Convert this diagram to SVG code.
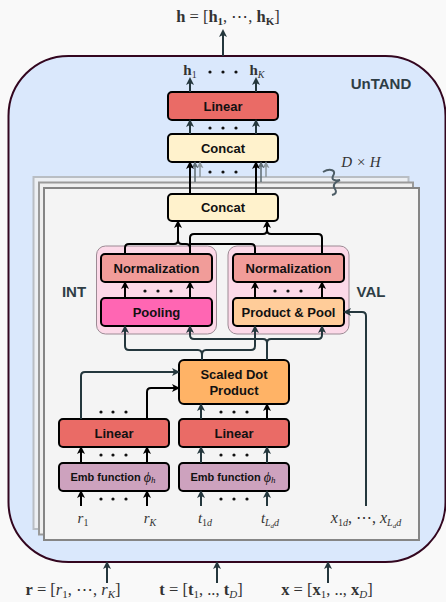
<svg xmlns="http://www.w3.org/2000/svg" width="446" height="602" viewBox="0 0 446 602">
<defs>
<style>
.box{stroke:#000;stroke-width:2}
.lbl{font-family:"Liberation Sans",Arial,sans-serif;font-weight:bold;font-size:13px;fill:#111;text-anchor:middle;dominant-baseline:central}
.emb{font-family:"Liberation Sans",Arial,sans-serif;font-weight:bold;font-size:11px;fill:#111;text-anchor:middle;dominant-baseline:central}
.phi{font-family:"Liberation Serif","DejaVu Serif",serif;font-style:italic;font-weight:normal}
.side{font-family:"Liberation Sans",Arial,sans-serif;font-weight:bold;font-size:15px;fill:#2e3d45;text-anchor:middle;dominant-baseline:central}
.math{font-family:"Liberation Serif","DejaVu Serif",serif;font-size:15px;fill:#333;text-anchor:middle}
.big{font-size:16.5px}
.mi{font-style:italic}
.mb{font-weight:bold}
.ck{fill:none;stroke:#000;stroke-width:2}
.cs{fill:none;stroke:#24373d;stroke-width:2}
.dot{fill:#111}
</style>
<marker id="ak" viewBox="0 0 8 8" refX="6" refY="4" markerWidth="8" markerHeight="8" markerUnits="userSpaceOnUse" orient="auto"><path d="M0,0 L8,4 L0,8 L2,4 z" fill="#000"/></marker>
<marker id="as" viewBox="0 0 8 8" refX="6" refY="4" markerWidth="8" markerHeight="8" markerUnits="userSpaceOnUse" orient="auto"><path d="M0,0 L8,4 L0,8 L2,4 z" fill="#24373d"/></marker>
<marker id="ag1" viewBox="0 0 8 8" refX="6" refY="4" markerWidth="7" markerHeight="7" markerUnits="userSpaceOnUse" orient="auto"><path d="M0,0 L8,4 L0,8 L2,4 z" fill="#5d6b72"/></marker>
<marker id="ag2" viewBox="0 0 8 8" refX="6" refY="4" markerWidth="7" markerHeight="7" markerUnits="userSpaceOnUse" orient="auto"><path d="M0,0 L8,4 L0,8 L2,4 z" fill="#8c979d"/></marker>
</defs>
<rect width="446" height="602" fill="#f9f9f9"/>

<g id="untand">
<rect x="8.5" y="56" width="437" height="506" rx="60" fill="#dae8fc" stroke="#33061f" stroke-width="2"/>
<text class="side" x="381" y="83">UnTAND</text>
</g>

<g id="stack">
<rect x="33.5" y="177" width="375" height="352" fill="#eceff3" stroke="#b9bec4" stroke-width="2"/>
<rect x="39" y="182.5" width="374" height="352" fill="#efefef" stroke="#9a9a9a" stroke-width="2"/>
<rect x="44" y="188" width="375" height="352" fill="#f4f4f4" stroke="#858585" stroke-width="2"/>
<path d="M323,172 C330,168 337,170 333,176 C331,180 335,181 340,180 C335,182 332,185 335,189 C337,192 336,194 332,195" fill="none" stroke="#4d5d66" stroke-width="2"/>
<text class="math mi" x="361" y="167" fill="#444">D × H</text>
</g>

<g id="int-group">
<rect x="96.5" y="246" width="120" height="88" rx="9" fill="#fcd9e8" stroke="#9c8a94" stroke-width="1"/>
<text class="side" x="74" y="291">INT</text>
</g>
<g id="val-group">
<rect x="228" y="246" width="121" height="88" rx="9" fill="#fcd9e8" stroke="#9c8a94" stroke-width="1"/>
<text class="side" x="371" y="291">VAL</text>
</g>

<g id="linear-top"><rect class="box" x="168" y="92" width="110" height="28" rx="4" fill="#ea6b66"/><text class="lbl" x="223" y="106">Linear</text></g>
<g id="concat-top"><rect class="box" x="168" y="134" width="110" height="28" rx="4" fill="#fff2cc"/><text class="lbl" x="223" y="148">Concat</text></g>
<g id="concat-bottom"><rect class="box" x="168" y="194" width="110" height="27" rx="4" fill="#fff2cc"/><text class="lbl" x="223" y="207.5">Concat</text></g>
<g id="norm-int"><rect class="box" x="101" y="254" width="111" height="28" rx="4" fill="#f19c99"/><text class="lbl" x="156.5" y="268">Normalization</text></g>
<g id="pooling"><rect class="box" x="101" y="298" width="111" height="28" rx="4" fill="#ff66b3"/><text class="lbl" x="156.5" y="312">Pooling</text></g>
<g id="norm-val"><rect class="box" x="233" y="254" width="111" height="28" rx="4" fill="#f19c99"/><text class="lbl" x="288.5" y="268">Normalization</text></g>
<g id="prodpool"><rect class="box" x="233" y="298" width="111" height="28" rx="4" fill="#ffcc99"/><text class="lbl" x="288.5" y="312">Product &amp; Pool</text></g>
<g id="sdp"><rect class="box" x="179" y="360" width="110" height="44" rx="5" fill="#ffb366"/><text class="lbl" x="234" y="374">Scaled Dot</text><text class="lbl" x="234" y="390">Product</text></g>
<g id="linear-left"><rect class="box" x="59" y="419" width="110" height="28" rx="4" fill="#ea6b66"/><text class="lbl" x="114" y="433">Linear</text></g>
<g id="linear-right"><rect class="box" x="179" y="419" width="110" height="28" rx="4" fill="#ea6b66"/><text class="lbl" x="234" y="433">Linear</text></g>
<g id="emb-left"><rect class="box" x="59" y="463" width="110" height="28" rx="4" fill="#cda2be"/><text class="emb" x="113" y="477">Emb function <tspan class="phi" style="font-size:14px">ϕ</tspan><tspan class="phi" style="font-size:9px" dy="3">h</tspan></text></g>
<g id="emb-right"><rect class="box" x="179" y="463" width="110" height="28" rx="4" fill="#cda2be"/><text class="emb" x="233" y="477">Emb function <tspan class="phi" style="font-size:14px">ϕ</tspan><tspan class="phi" style="font-size:9px" dy="3">h</tspan></text></g>

<g id="connectors">
<path class="cs" d="M223,56 V31" marker-end="url(#as)"/>
<path class="cs" d="M190,92 V79" marker-end="url(#as)"/>
<path class="cs" d="M256,92 V79" marker-end="url(#as)"/>
<path class="cs" d="M190,134 V121" marker-end="url(#as)"/>
<path class="cs" d="M256,134 V121" marker-end="url(#as)"/>
<path fill="none" stroke="#8c979d" stroke-width="1.5" d="M200,177 V163" marker-end="url(#ag2)"/>
<path fill="none" stroke="#8c979d" stroke-width="1.5" d="M266,177 V163" marker-end="url(#ag2)"/>
<path fill="none" stroke="#5d6b72" stroke-width="1.5" d="M195,182 V163" marker-end="url(#ag1)"/>
<path fill="none" stroke="#5d6b72" stroke-width="1.5" d="M261,182 V163" marker-end="url(#ag1)"/>
<path class="ck" d="M190,194 V163" marker-end="url(#ak)"/>
<path class="ck" d="M256,194 V163" marker-end="url(#ak)"/>

<path class="ck" d="M125,254 V248 Q125,244 129,244 H174 Q178,244 178,240 V222" marker-end="url(#ak)"/>
<path class="ck" d="M190,254 V248 Q190,244 186,244 H182 Q178,244 178,240"/>
<path class="ck" d="M190,248 V238 Q190,234 194,234 H263 Q267,234 267,230 V222" marker-end="url(#ak)"/>
<path class="ck" d="M322,254 V238 Q322,234 318,234 H271 Q267,234 267,230"/>
<path class="ck" d="M255,254 V248 Q255,244 251,244 H190"/>

<path class="ck" d="M125,298 V283" marker-end="url(#ak)"/>
<path class="ck" d="M190,298 V283" marker-end="url(#ak)"/>
<path class="ck" d="M255,298 V283" marker-end="url(#ak)"/>
<path class="ck" d="M322,298 V283" marker-end="url(#ak)"/>

<path class="cs" d="M202,360 V355 Q202,350 198,350 H129 Q125,350 125,346 V327" marker-end="url(#as)"/>
<path class="cs" d="M202,355 Q202,350 206,350 H251 Q255,350 255,346 V327" marker-end="url(#as)"/>
<path class="cs" d="M267,360 V343 Q267,339 263,339 H194 Q190,339 190,335 V327" marker-end="url(#as)"/>
<path class="cs" d="M267,343 Q267,339 271,339 H318 Q322,339 322,335 V327" marker-end="url(#as)"/>

<path class="cs" d="M366,506 V316 Q366,312 362,312 H345" marker-end="url(#as)"/>

<path class="cs" d="M81,419 V376 Q81,372 85,372 H178" marker-end="url(#as)"/>
<path class="ck" d="M147,419 V392 Q147,388 151,388 H178" marker-end="url(#ak)"/>
<path class="cs" d="M201,419 V405" marker-end="url(#as)"/>
<path class="ck" d="M267,419 V405" marker-end="url(#ak)"/>

<path class="ck" d="M81,463 V448" marker-end="url(#ak)"/>
<path class="ck" d="M147,463 V448" marker-end="url(#ak)"/>
<path class="cs" d="M201,463 V448" marker-end="url(#as)"/>
<path class="cs" d="M267,463 V448" marker-end="url(#as)"/>

<path class="ck" d="M81,506 V492" marker-end="url(#ak)"/>
<path class="ck" d="M147,506 V492" marker-end="url(#ak)"/>
<path class="cs" d="M201,506 V492" marker-end="url(#as)"/>
<path class="cs" d="M267,506 V492" marker-end="url(#as)"/>

<path class="cs" d="M107,583 V563" marker-end="url(#as)"/>
<path class="cs" d="M217,583 V563" marker-end="url(#as)"/>
<path class="cs" d="M328,583 V563" marker-end="url(#as)"/>
</g>

<g id="dots">
<circle class="dot" cx="210" cy="72" r="1.6"/><circle class="dot" cx="223" cy="72" r="1.6"/><circle class="dot" cx="236" cy="72" r="1.6"/>
<circle class="dot" cx="210" cy="128" r="1.6"/><circle class="dot" cx="223" cy="128" r="1.6"/><circle class="dot" cx="236" cy="128" r="1.6"/>
<circle class="dot" cx="210" cy="172" r="1.6"/><circle class="dot" cx="223" cy="172" r="1.6"/><circle class="dot" cx="236" cy="172" r="1.6"/>
<circle class="dot" cx="145" cy="291" r="1.6"/><circle class="dot" cx="158" cy="291" r="1.6"/><circle class="dot" cx="171" cy="291" r="1.6"/>
<circle class="dot" cx="275" cy="291" r="1.6"/><circle class="dot" cx="288" cy="291" r="1.6"/><circle class="dot" cx="301" cy="291" r="1.6"/>
<circle class="dot" cx="101" cy="412" r="1.6"/><circle class="dot" cx="113" cy="412" r="1.6"/><circle class="dot" cx="126" cy="412" r="1.6"/>
<circle class="dot" cx="221" cy="412" r="1.6"/><circle class="dot" cx="234" cy="412" r="1.6"/><circle class="dot" cx="247" cy="412" r="1.6"/>
<circle class="dot" cx="101" cy="455" r="1.6"/><circle class="dot" cx="113" cy="455" r="1.6"/><circle class="dot" cx="126" cy="455" r="1.6"/>
<circle class="dot" cx="221" cy="455" r="1.6"/><circle class="dot" cx="234" cy="455" r="1.6"/><circle class="dot" cx="247" cy="455" r="1.6"/>
<circle class="dot" cx="101" cy="499" r="1.6"/><circle class="dot" cx="113" cy="499" r="1.6"/><circle class="dot" cx="126" cy="499" r="1.6"/>
<circle class="dot" cx="221" cy="499" r="1.6"/><circle class="dot" cx="234" cy="499" r="1.6"/><circle class="dot" cx="247" cy="499" r="1.6"/>
</g>

<g id="labels">
<text class="math big" x="228" y="22"><tspan class="mb">h</tspan> = [<tspan class="mb">h</tspan><tspan class="mb" font-size="11px" dy="3">1</tspan><tspan dy="-3">, ⋯, </tspan><tspan class="mb">h</tspan><tspan class="mb" font-size="11px" dy="3">K</tspan><tspan dy="-3">]</tspan></text>
<text class="math" x="190" y="75"><tspan class="mb">h</tspan><tspan font-size="10px" dy="3">1</tspan></text>
<text class="math" x="257" y="75"><tspan class="mb">h</tspan><tspan class="mi" font-size="10px" dy="3">K</tspan></text>
<text class="math" x="83" y="523"><tspan class="mi">r</tspan><tspan font-size="10px" dy="3">1</tspan></text>
<text class="math" x="150" y="523"><tspan class="mi">r</tspan><tspan class="mi" font-size="10px" dy="3">K</tspan></text>
<text class="math" x="205" y="523"><tspan class="mi">t</tspan><tspan font-size="10px" dy="3">1<tspan class="mi">d</tspan></tspan></text>
<text class="math" x="270" y="523"><tspan class="mi">t</tspan><tspan class="mi" font-size="10px" dy="3">L</tspan><tspan class="mi" font-size="7px" dy="2">d</tspan><tspan class="mi" font-size="10px" dy="-2">d</tspan></text>
<text class="math" x="366" y="523" style="font-size:16px"><tspan class="mi">x</tspan><tspan font-size="10px" dy="3">1<tspan class="mi">d</tspan></tspan><tspan dy="-3">, ⋯, </tspan><tspan class="mi">x</tspan><tspan class="mi" font-size="10px" dy="3">L</tspan><tspan class="mi" font-size="7px" dy="2">d</tspan><tspan class="mi" font-size="10px" dy="-2">d</tspan></text>
<text class="math big" x="73" y="595"><tspan class="mb">r</tspan> = [<tspan class="mi">r</tspan><tspan font-size="11px" dy="2.5">1</tspan><tspan dy="-2.5">, ⋯, </tspan><tspan class="mi">r</tspan><tspan class="mi" font-size="11px" dy="2.5">K</tspan><tspan dy="-2.5">]</tspan></text>
<text class="math big" x="201" y="595"><tspan class="mb">t</tspan> = [<tspan class="mb">t</tspan><tspan font-size="11px" dy="2.5">1</tspan><tspan dy="-2.5">, .., </tspan><tspan class="mb">t</tspan><tspan class="mi" font-size="11px" dy="2.5">D</tspan><tspan dy="-2.5">]</tspan></text>
<text class="math big" x="327" y="595"><tspan class="mb">x</tspan> = [<tspan class="mb">x</tspan><tspan font-size="11px" dy="2.5">1</tspan><tspan dy="-2.5">, .., </tspan><tspan class="mb">x</tspan><tspan class="mi" font-size="11px" dy="2.5">D</tspan><tspan dy="-2.5">]</tspan></text>
</g>
</svg>
